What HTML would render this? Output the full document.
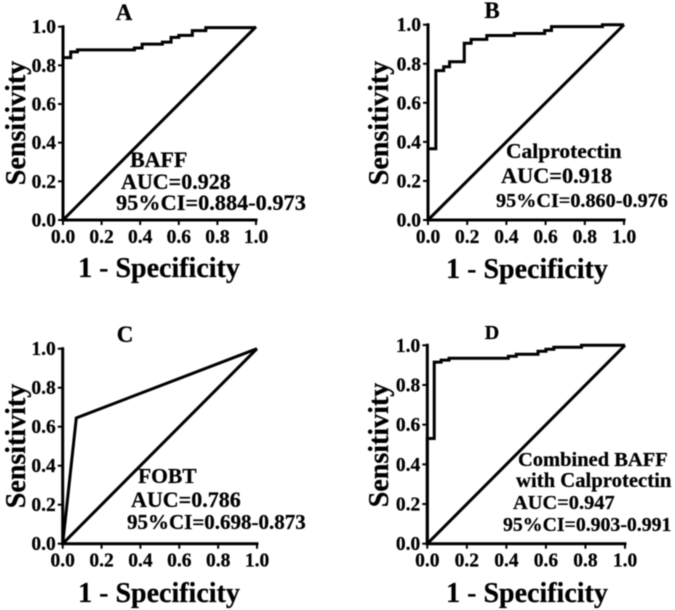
<!DOCTYPE html>
<html lang="en">
<head>
<meta charset="utf-8">
<title>ROC curves</title>
<style>
html,body{margin:0;padding:0;background:#fff;width:675px;height:610px;overflow:hidden}
svg{display:block;filter:blur(0.45px)}
text{font-family:"Liberation Serif",serif;font-weight:bold;fill:#000;stroke:#000;stroke-width:0.25px}
.tick{font-size:19.5px}
.axt{font-size:28px}
.ttl{font-size:23px;text-anchor:middle}
.ann{font-size:22px}
</style>
</head>
<body>
<svg id="chart" width="675" height="610" viewBox="0 0 675 610" xmlns="http://www.w3.org/2000/svg">
  <g id="panel-a">
    <text class="ttl" x="124" y="20">A</text>
    <text class="axt" text-anchor="middle" transform="translate(25,123) rotate(-90)">Sensitivity</text>
    <text class="axt" text-anchor="middle" x="159" y="277">1 - Specificity</text>
    <text class="ann" x="130" y="167">BAFF</text>
    <text class="ann" x="121" y="189">AUC=0.928</text>
    <text class="ann" x="116" y="210" style="font-size:22.3px">95%CI=0.884-0.973</text>
  </g>
  <g id="panel-b">
    <text class="ttl" x="492" y="18">B</text>
    <text class="axt" text-anchor="middle" transform="translate(388,123) rotate(-90)">Sensitivity</text>
    <text class="axt" text-anchor="middle" x="527" y="278">1 - Specificity</text>
    <text class="ann" x="506" y="158" style="font-size:21.5px">Calprotectin</text>
    <text class="ann" x="501" y="183" style="font-size:22.3px">AUC=0.918</text>
    <text class="ann" x="496" y="207" style="font-size:20.2px">95%CI=0.860-0.976</text>
  </g>
  <g id="panel-c">
    <text class="ttl" x="125" y="342">C</text>
    <text class="axt" text-anchor="middle" transform="translate(25,446) rotate(-90)">Sensitivity</text>
    <text class="axt" text-anchor="middle" x="159" y="602">1 - Specificity</text>
    <text class="ann" x="138" y="483" style="font-size:21.5px">FOBT</text>
    <text class="ann" x="131" y="507">AUC=0.786</text>
    <text class="ann" x="127" y="529" style="font-size:21px">95%CI=0.698-0.873</text>
  </g>
  <g id="panel-d">
    <text class="ttl" x="492" y="339" style="font-size:20px">D</text>
    <text class="axt" text-anchor="middle" transform="translate(388,445) rotate(-90)">Sensitivity</text>
    <text class="axt" text-anchor="middle" x="527" y="602">1 - Specificity</text>
    <text class="ann" x="518" y="466" style="font-size:20.5px">Combined BAFF</text>
    <text class="ann" x="516" y="487" style="font-size:20.7px">with Calprotectin</text>
    <text class="ann" x="513" y="509" style="font-size:20.4px">AUC=0.947</text>
    <text class="ann" x="503" y="531" style="font-size:19.8px">95%CI=0.903-0.991</text>
  </g>
</svg>
<script>
const tickValues = [0, 0.2, 0.4, 0.6, 0.8, 1];
const tickLabels = ['0.0', '0.2', '0.4', '0.6', '0.8', '1.0'];
const diagonalFpr = [0, 1];
const diagonalTpr = [0, 1];
const fprA = [0, 0, 0.04, 0.04, 0.075, 0.075, 0.37, 0.37, 0.41, 0.41, 0.515, 0.515, 0.56, 0.56, 0.6, 0.6, 0.67, 0.67, 0.74, 0.74, 1];
const tprA = [0, 0.84, 0.84, 0.87, 0.87, 0.88, 0.88, 0.89, 0.89, 0.91, 0.91, 0.92, 0.92, 0.945, 0.945, 0.955, 0.955, 0.98, 0.98, 0.995, 0.995];
const fprB = [0, 0, 0.04, 0.04, 0.08, 0.08, 0.11, 0.11, 0.185, 0.185, 0.22, 0.22, 0.3, 0.3, 0.44, 0.44, 0.595, 0.595, 0.63, 0.63, 0.89, 0.89, 1];
const tprB = [0, 0.365, 0.365, 0.765, 0.765, 0.785, 0.785, 0.81, 0.81, 0.905, 0.905, 0.925, 0.925, 0.945, 0.945, 0.955, 0.955, 0.97, 0.97, 0.99, 0.99, 1, 1];
const fprC = [0, 0.07, 1];
const tprC = [0, 0.645, 1];
const fprD = [0, 0, 0.035, 0.035, 0.07, 0.07, 0.11, 0.11, 0.41, 0.41, 0.45, 0.45, 0.56, 0.56, 0.6, 0.6, 0.64, 0.64, 0.78, 0.78, 1];
const tprD = [0, 0.53, 0.53, 0.915, 0.915, 0.925, 0.925, 0.935, 0.935, 0.945, 0.945, 0.955, 0.955, 0.97, 0.97, 0.98, 0.98, 0.99, 0.99, 1, 1];

const SVG_NS = 'http://www.w3.org/2000/svg';

function makeLine(parent, x1, y1, x2, y2, width) {
  const line = document.createElementNS(SVG_NS, 'line');
  line.setAttribute('x1', x1);
  line.setAttribute('y1', y1);
  line.setAttribute('x2', x2);
  line.setAttribute('y2', y2);
  line.setAttribute('stroke', '#000');
  line.setAttribute('stroke-width', width);
  line.setAttribute('stroke-linecap', 'square');
  parent.appendChild(line);
  return line;
}

function makePath(parent, xs, ys, sx, sy, width) {
  const path = document.createElementNS(SVG_NS, 'path');
  let d = '';
  for (let i = 0; i < xs.length; i++) {
    d += (i ? 'L' : 'M') + sx(xs[i]).toFixed(2) + ' ' + sy(ys[i]).toFixed(2);
  }
  path.setAttribute('d', d);
  path.setAttribute('fill', 'none');
  path.setAttribute('stroke', '#000');
  path.setAttribute('stroke-width', width);
  path.setAttribute('stroke-linejoin', 'miter');
  parent.appendChild(path);
  return path;
}

function makeTickLabel(parent, x, y, anchor, str) {
  const t = document.createElementNS(SVG_NS, 'text');
  t.setAttribute('class', 'tick');
  t.setAttribute('x', x);
  t.setAttribute('y', y);
  t.setAttribute('text-anchor', anchor);
  t.textContent = str;
  parent.appendChild(t);
  return t;
}

function drawPanel(id, fpr, tpr, left, right, top, bottom) {
  const g = document.getElementById(id);
  const sx = v => left + v * (right - left);
  const sy = v => bottom - v * (bottom - top);

  const xAxis = makeLine(g, left, bottom, right, bottom, 3);
  
  
  const yAxis = makeLine(g, left, top, left, bottom, 3);
  
  

  tickValues.forEach((v, i) => {
    const xt = makeLine(g, sx(v), bottom, sx(v), bottom + 4, 2);
    
    
    const yt = makeLine(g, left - 4, sy(v), left, sy(v), 2);
    
    
    const xl = makeTickLabel(g, sx(v), bottom + 23, 'middle', tickLabels[i]);
    
    
    const yl = makeTickLabel(g, left - 7, sy(v) + 6.5, 'end', tickLabels[i]);
    
    
  });

  const diag = makePath(g, diagonalFpr, diagonalTpr, sx, sy, 3);
  
  
  const curve = makePath(g, fpr, tpr, sx, sy, 3);
  
  
}

drawPanel('panel-a', fprA, tprA, 63, 256, 26.7, 220);
drawPanel('panel-b', fprB, tprB, 428, 624, 24.7, 220);
drawPanel('panel-c', fprC, tprC, 62.7, 257, 348.7, 543.7);
drawPanel('panel-d', fprD, tprD, 427.3, 625, 345.3, 543.7);
</script>
</body>
</html>
